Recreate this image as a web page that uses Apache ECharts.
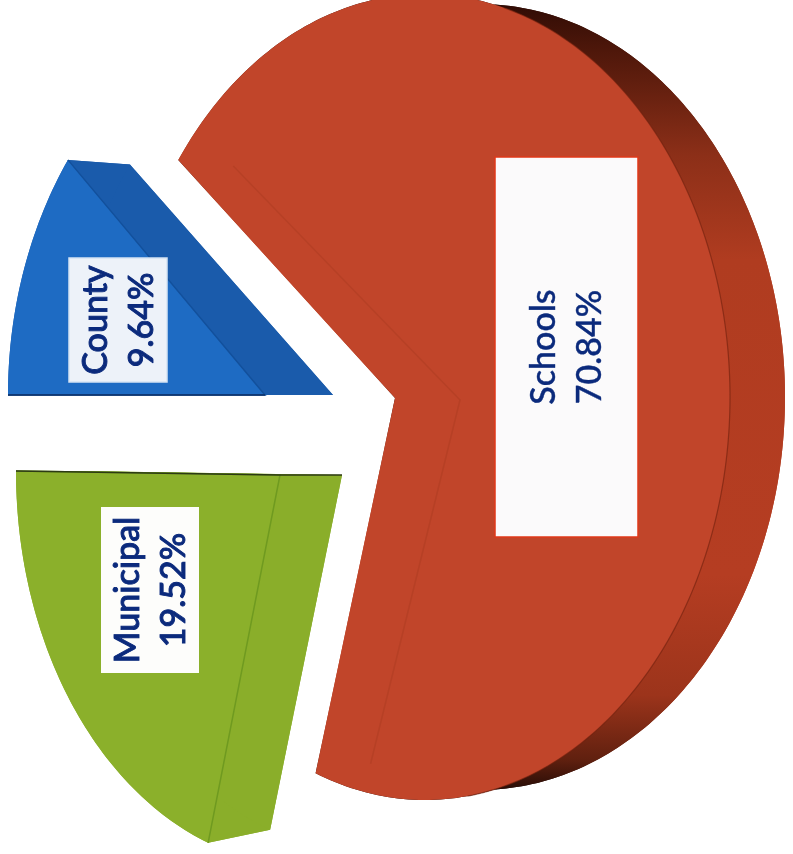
<!DOCTYPE html>
<html><head><meta charset="utf-8">
<style>html,body{margin:0;padding:0;background:#fff}#c{width:793px;height:854px}</style>
<script src="https://cdn.jsdelivr.net/npm/echarts@6/dist/echarts.min.js"></script>
</head><body><div id="c"></div>
<script>
const categories = ['Schools', 'Municipal', 'County'];
const shares = [70.84, 19.52, 9.64];

// Geometry of the tilted, exploded pie (pixels)
const START = -54;
const angleNudge = [0, -1.3, -1.3];
const centers = [[425, 397], [306, 471], [345, 395]];
const radii = [[305, 403], [290, 395], [337, 413]];
const faceApex = [[395, 398], [280, 475], [265, 395]];
const backApex = [[460, 400], [342, 475], [333, 395]];
const rimShift = [55, 62, 62];
const backScale = [0.975, 0.965, 0.98];
const faceColors = ['#c1452a', '#8bb02b', '#1e6bc3'];
const wallColors = [null, '#8aae2a', '#1a5bab'];
const lineColors = ['rgba(140,45,22,0.2)', '#6f9a20', '#12509c'];
const rimColors = ['rgba(110,32,14,0.6)', null, null];
const labelBoxes = [[495, 157, 143, 380], [101, 507, 98, 166], [69, 258, 98, 124]];
const boxFill = ['#fbfafb', '#fdfdfb', '#edf2f9'];
const boxEdge = ['#e0391a', null, '#d5e3f4'];
const textWeight = [0.4, 0.9, 0.9];
const textColor = '#0b2a7c';

const redWall = {
  type: 'linear', x: 0, y: 0, x2: 0, y2: 1, colorStops: [
    { offset: 0, color: '#2a0a04' }, { offset: 0.07, color: '#4e170a' },
    { offset: 0.2, color: '#8c2f18' }, { offset: 0.33, color: '#b03c20' },
    { offset: 0.72, color: '#b53d22' }, { offset: 0.87, color: '#9c341b' },
    { offset: 0.95, color: '#60200f' }, { offset: 1, color: '#140604' }
  ]
};

function rim(i, a0, a1, back) {
  const c = centers[i], r = radii[i];
  const k = back ? backScale[i] : 1, dx = back ? rimShift[i] : 0;
  const pts = [], n = Math.ceil(a1 - a0);
  for (let j = 0; j <= n; j++) {
    const t = (a0 + (a1 - a0) * j / n) * Math.PI / 180;
    pts.push([c[0] + r[0] * Math.sin(t) + dx, c[1] - r[1] * Math.cos(t) * k]);
  }
  return pts;
}

const total = shares.reduce((a, b) => a + b, 0);
const startAngles = [];
shares.reduce((acc, v, i) => { startAngles[i] = acc + angleNudge[i]; return acc + v / total * 360; }, START);

function renderItem(params, api) {
  const i = params.dataIndex, v = api.value(0);
  const a0 = startAngles[i], a1 = a0 + v / total * 360;
  const F = rim(i, a0, a1, false), B = rim(i, a0, a1, true);
  const fa = faceApex[i], ba = backApex[i];
  const wall = wallColors[i] || redWall;
  const Fe = F[F.length - 1], Be = B[B.length - 1];
  const kids = [];
  const poly = (points, fill, z) => ({ type: 'polygon', z2: z, shape: { points }, style: { fill, stroke: null } });
  const line = (points, stroke, w, z) => ({ type: 'polyline', z2: z, shape: { points }, style: { stroke, lineWidth: w, fill: null } });

  kids.push(poly([ba].concat(B), wall, 1));
  kids.push(poly([fa, F[0], B[0], ba], wall, 1));
  kids.push(poly([fa, Fe, Be, ba], wall, 1));
  kids.push(poly(F.concat(B.slice().reverse()), wall, 1));
  kids.push(poly([fa].concat(F), faceColors[i], 2));

  if (i === 0) {
    kids.push(line([B[0], ba, Be], lineColors[i], 1.5, 3));
    kids.push(line(rim(i, 15, 172, false), rimColors[i], 1.2, 3));
  } else {
    kids.push(line([F[0], fa, Fe], lineColors[i], 1.5, 3));
  }
  if (i === 2) kids.push(line([F[0], fa], '#0c2f66', 1.4, 3));
  if (i === 1) kids.push(line([Fe, fa, ba], '#2c3a14', 1.4, 3));

  const b = labelBoxes[i];
  kids.push({ type: 'rect', z2: 5, shape: { x: b[0], y: b[1], width: b[2], height: b[3] },
    style: { fill: boxFill[i], stroke: boxEdge[i], lineWidth: boxEdge[i] ? 1.5 : 0 } });
  kids.push({ type: 'text', z2: 6, x: b[0] + b[2] / 2 + 1, y: b[1] + b[3] / 2, rotation: Math.PI / 2,
    style: { text: categories[i] + '\n' + v.toFixed(2) + '%', fill: textColor, stroke: textColor, lineWidth: textWeight[i],
      font: '500 34px Lato, sans-serif', lineHeight: 46, align: 'center', verticalAlign: 'middle' } });
  return { type: 'group', children: kids };
}

const chart = echarts.init(document.getElementById('c'), null, { renderer: 'canvas' });
chart.setOption({
  animation: false,
  backgroundColor: '#ffffff',
  series: [{
    type: 'custom',
    coordinateSystem: 'none',
    silent: true,
    renderItem,
    clip: false,
    data: shares.map((v, i) => ({ name: categories[i], value: [v] }))
  }]
});
</script></body></html>
